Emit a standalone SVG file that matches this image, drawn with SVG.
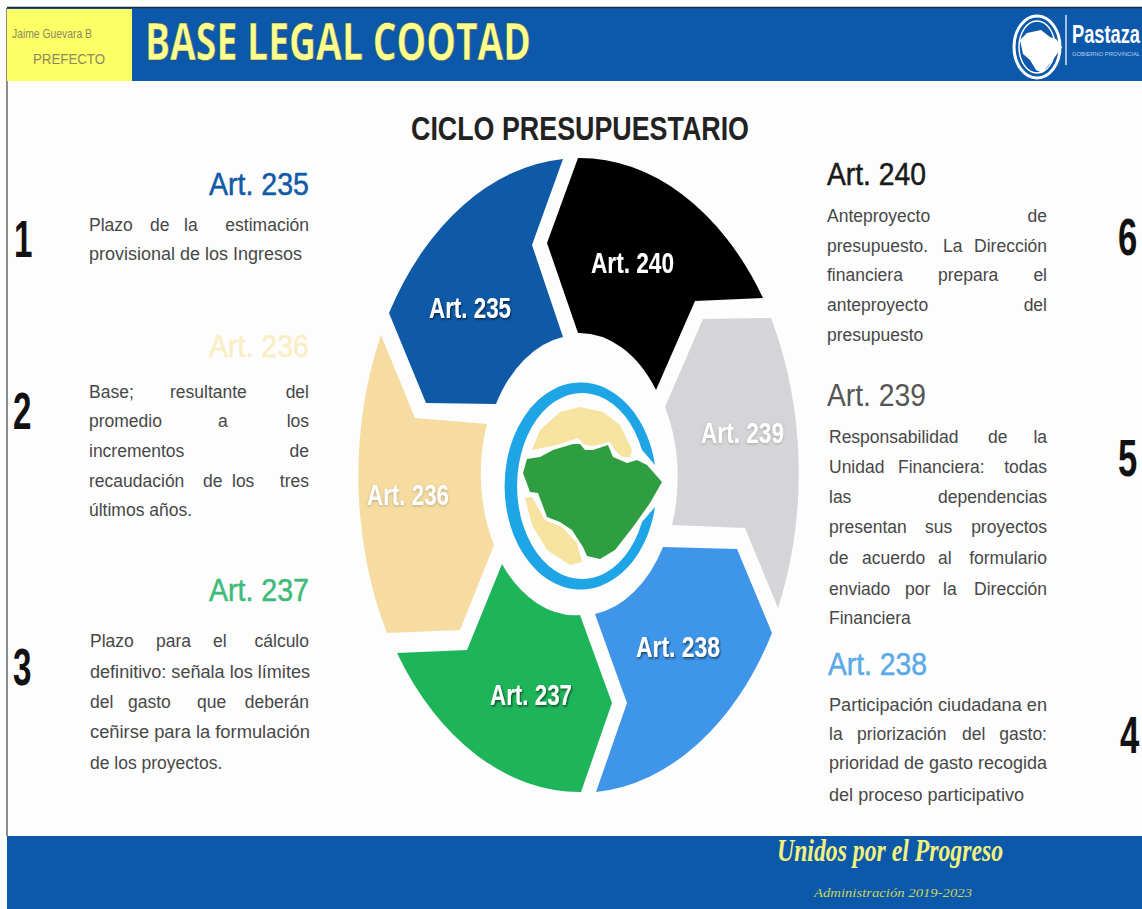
<svg xmlns="http://www.w3.org/2000/svg" width="1142" height="909" viewBox="0 0 1142 909">
<style>
text{font-family:"Liberation Sans",Arial,sans-serif}
.b{font-size:17.5px;fill:#474747}
.e{text-anchor:end}
.h{font-size:31px;text-anchor:end;stroke-width:.5px}
.hl{font-size:31px;stroke-width:.5px}
.n{font-size:51px;font-weight:700;fill:#111}
.w{font-size:30px;font-weight:700;fill:#fff;filter:url(#sh)}
.w2{font-size:30px;font-weight:700;fill:#fff;filter:url(#sh2)}
</style>
<defs>
<filter id="sh" x="-10%" y="-20%" width="120%" height="150%"><feDropShadow dx="1" dy="1.5" stdDeviation="1" flood-color="#000" flood-opacity=".6"/></filter>
<filter id="sh2" x="-10%" y="-20%" width="120%" height="150%"><feDropShadow dx="0" dy="1" stdDeviation="1.5" flood-color="#8a8a70" flood-opacity=".6"/></filter>
</defs>
<rect width="1142" height="909" fill="#fdfdfd"/>
<path d="M7 8V836" stroke="#666" stroke-width="1.5" fill="none"/>
<g id="header">
<rect x="7" y="7" width="1135" height="74" fill="#0c58aa"/>
<path d="M7 7.500H1142" stroke="#1c2a44" stroke-width="1.500"/>
<rect x="7" y="9" width="125" height="72" fill="#ffff66"/>
<text x="52" y="38" font-size="13.500" fill="#8a8a60" text-anchor="middle" textLength="80" lengthAdjust="spacingAndGlyphs">Jaime Guevara  B</text>
<text x="69" y="64" font-size="14" fill="#8a8a60" text-anchor="middle" textLength="72" lengthAdjust="spacingAndGlyphs">PREFECTO</text>
<text x="145" y="60" font-size="52" font-weight="700" fill="#ffff8f" stroke="#3a4a30" stroke-width=".5" style="font-family:'Open Sans','Liberation Sans',sans-serif" textLength="386" lengthAdjust="spacingAndGlyphs">BASE LEGAL COOTAD</text>
</g>
<g id="logo">
<ellipse cx="1037" cy="47" rx="23" ry="31" fill="#0c58aa" stroke="#fff" stroke-width="3"/>
<ellipse cx="1037" cy="47" rx="18" ry="26" fill="none" stroke="#fff" stroke-width="1.500"/>
<path d="M1020 40L1027 33L1041 30L1050 37L1056 39L1062 47L1052 61L1042 73L1036 70L1030 60L1023 54Z" fill="#fff"/>
<path d="M1066 15V65" stroke="#d8e4f4" stroke-width="1.500"/>
<text transform="translate(1072 43) scale(.73 1)" font-size="25" font-weight="700" fill="#fff">Pastaza</text>
<text x="1072" y="56" font-size="6" fill="#bcd0ea" textLength="68" lengthAdjust="spacingAndGlyphs">GOBIERNO PROVINCIAL</text>
</g>
<text id="title" x="411" y="140" font-size="34" font-weight="700" fill="#222" textLength="338" lengthAdjust="spacingAndGlyphs">CICLO PRESUPUESTARIO</text>

<g id="seg-235"><path d="M389 313A222 320 0 0 1 563 159L532 245L563 337A95 140 0 0 0 496 404L426 403Z" fill="#0e5aa7"/><text class="w" x="429" y="318" textLength="82" lengthAdjust="spacingAndGlyphs">Art. 235</text></g>
<g id="seg-240"><path d="M578 158A222 320 0 0 1 763 298L695 301L656 390A95 140 0 0 0 578 333L547 243Z" fill="#000"/><text class="w" x="591" y="273" textLength="83" lengthAdjust="spacingAndGlyphs">Art. 240</text></g>
<g id="seg-239"><path d="M703 319L771 318A222 320 0 0 1 778 608L745 528L672 525A95 140 0 0 0 665 407Z" fill="#d5d5d9"/><text class="w2" x="701" y="443" textLength="83" lengthAdjust="spacingAndGlyphs">Art. 239</text></g>
<g id="seg-238"><path d="M595 614A95 140 0 0 0 663 547L737 549L772 633A222 320 0 0 1 596 792L627 703Z" fill="#3f95e8"/><text class="w" x="636" y="657" textLength="84" lengthAdjust="spacingAndGlyphs">Art. 238</text></g>
<g id="seg-237"><path d="M502 564A95 140 0 0 0 580 615L612 703L581 792A222 320 0 0 1 397 653L467 650Z" fill="#1eb45a"/><text class="w" x="490" y="705" textLength="82" lengthAdjust="spacingAndGlyphs">Art. 237</text></g>
<g id="seg-236"><path d="M381 335L415 418L487 424A95 140 0 0 0 494 545L460 630L387 633A222 320 0 0 1 381 335Z" fill="#f6dca0"/><text class="w2" x="367" y="505" textLength="82" lengthAdjust="spacingAndGlyphs">Art. 236</text></g>

<g id="center">
<path d="M655 465A76 103.500 0 1 0 655 507L642 522A65 93 0 1 1 642 450Z" fill="#1ea5e6"/>
<path d="M532 450L540 430L560 412L580 407L603 412L620 425L632 450L630 457L622 457L615 450L610 442L593 446L585 445L578 438L557 445Z" fill="#f7e3a0"/>
<path d="M525 498L532 497L545 520L562 527L577 543L582 562L570 565L547 550L532 525Z" fill="#f7e3a0"/>
<path d="M527 459L540 457L553 450L573 444L580 444L585 450L593 450L608 445L613 457L627 463L637 460L647 465L662 482L650 503L633 527L615 550L600 559L587 556L583 547L572 530L560 522L547 517L538 493L530 492L523 473Z" fill="#2f9e40" stroke="#fdfdfd" stroke-width="5" paint-order="stroke" stroke-linejoin="round"/>
</g>

<g id="art-235">
<text class="n" transform="translate(14 257) scale(.65 1)">1</text>
<text class="h" x="309" y="195" fill="#0e5aa7" stroke="#0e5aa7" textLength="100" lengthAdjust="spacingAndGlyphs">Art. 235</text>
<text class="b" y="231"><tspan x="89">Plazo</tspan><tspan x="150">de</tspan><tspan x="184">la</tspan><tspan x="309" class="e">estimación</tspan></text>
<text class="b" x="89" y="260" textLength="213" lengthAdjust="spacingAndGlyphs">provisional de los Ingresos</text>
</g>
<g id="art-236">
<text class="n" transform="translate(13 429) scale(.65 1)">2</text>
<text class="h" x="309" y="357" fill="#fbeec4" stroke="#fbeec4" textLength="100" lengthAdjust="spacingAndGlyphs">Art. 236</text>
<text class="b" y="398"><tspan x="89">Base;</tspan><tspan x="170">resultante</tspan><tspan x="309" class="e">del</tspan></text>
<text class="b" y="427"><tspan x="89">promedio</tspan><tspan x="218">a</tspan><tspan x="309" class="e">los</tspan></text>
<text class="b" y="457"><tspan x="89">incrementos</tspan><tspan x="309" class="e">de</tspan></text>
<text class="b" y="487"><tspan x="89">recaudación</tspan><tspan x="203">de</tspan><tspan x="232">los</tspan><tspan x="309" class="e">tres</tspan></text>
<text class="b" x="89" y="516">últimos años.</text>
</g>
<g id="art-237">
<text class="n" transform="translate(13 685) scale(.65 1)">3</text>
<text class="h" x="309" y="601" fill="#3dbb78" stroke="#3dbb78" textLength="100" lengthAdjust="spacingAndGlyphs">Art. 237</text>
<text class="b" y="647"><tspan x="90">Plazo</tspan><tspan x="156">para</tspan><tspan x="213">el</tspan><tspan x="309" class="e">cálculo</tspan></text>
<text class="b" x="90" y="678" textLength="220" lengthAdjust="spacingAndGlyphs">definitivo: señala los límites</text>
<text class="b" y="708"><tspan x="90">del</tspan><tspan x="128">gasto</tspan><tspan x="197">que</tspan><tspan x="309" class="e">deberán</tspan></text>
<text class="b" x="90" y="738" textLength="220" lengthAdjust="spacingAndGlyphs">ceñirse para la formulación</text>
<text class="b" x="90" y="769">de los proyectos.</text>
</g>
<g id="art-240">
<text class="n" transform="translate(1118 255) scale(.68 1)">6</text>
<text class="hl" x="827" y="185" fill="#1a1a1a" stroke="#1a1a1a" textLength="99" lengthAdjust="spacingAndGlyphs">Art. 240</text>
<text class="b" y="222"><tspan x="827">Anteproyecto</tspan><tspan x="1047" class="e">de</tspan></text>
<text class="b" y="252"><tspan x="827">presupuesto.</tspan><tspan x="943">La</tspan><tspan x="1047" class="e">Dirección</tspan></text>
<text class="b" y="281"><tspan x="827">financiera</tspan><tspan x="938">prepara</tspan><tspan x="1047" class="e">el</tspan></text>
<text class="b" y="311"><tspan x="827">anteproyecto</tspan><tspan x="1047" class="e">del</tspan></text>
<text class="b" x="827" y="341">presupuesto</text>
</g>
<g id="art-239">
<text class="n" transform="translate(1118 476) scale(.68 1)">5</text>
<text class="hl" x="827" y="406" fill="#555" stroke="none" textLength="99" lengthAdjust="spacingAndGlyphs">Art. 239</text>
<text class="b" y="443"><tspan x="829">Responsabilidad</tspan><tspan x="988">de</tspan><tspan x="1047" class="e">la</tspan></text>
<text class="b" y="473"><tspan x="829">Unidad</tspan><tspan x="898">Financiera:</tspan><tspan x="1047" class="e">todas</tspan></text>
<text class="b" y="503"><tspan x="829">las</tspan><tspan x="1047" class="e">dependencias</tspan></text>
<text class="b" y="533"><tspan x="829">presentan</tspan><tspan x="925">sus</tspan><tspan x="1047" class="e">proyectos</tspan></text>
<text class="b" y="564"><tspan x="829">de</tspan><tspan x="862">acuerdo</tspan><tspan x="938">al</tspan><tspan x="1047" class="e">formulario</tspan></text>
<text class="b" y="595"><tspan x="829">enviado</tspan><tspan x="905">por</tspan><tspan x="943">la</tspan><tspan x="1047" class="e">Dirección</tspan></text>
<text class="b" x="829" y="624">Financiera</text>
</g>
<g id="art-238">
<text class="n" transform="translate(1120 753) scale(.68 1)">4</text>
<text class="hl" x="828" y="675" fill="#5aaae8" stroke="#5aaae8" textLength="99" lengthAdjust="spacingAndGlyphs">Art. 238</text>
<text class="b" x="829" y="711" textLength="218" lengthAdjust="spacingAndGlyphs">Participación ciudadana en</text>
<text class="b" y="740"><tspan x="829">la</tspan><tspan x="857">priorización</tspan><tspan x="962">del</tspan><tspan x="1047" class="e">gasto:</tspan></text>
<text class="b" x="829" y="769" textLength="218" lengthAdjust="spacingAndGlyphs">prioridad de gasto recogida</text>
<text class="b" x="829" y="801" textLength="195" lengthAdjust="spacingAndGlyphs">del proceso participativo</text>
</g>
<g id="footer">
<rect x="7" y="836" width="1135" height="73" fill="#0c58aa"/>
<text x="777" y="861" font-size="32" font-weight="700" font-style="italic" fill="#f2f27c" style="font-family:'Liberation Serif',serif" textLength="226" lengthAdjust="spacingAndGlyphs">Unidos por el Progreso</text>
<text x="814" y="897" font-size="12" font-style="italic" fill="#c9d65c" style="font-family:'Liberation Serif',serif" textLength="158" lengthAdjust="spacingAndGlyphs">Administración 2019-2023</text>
</g>
</svg>
